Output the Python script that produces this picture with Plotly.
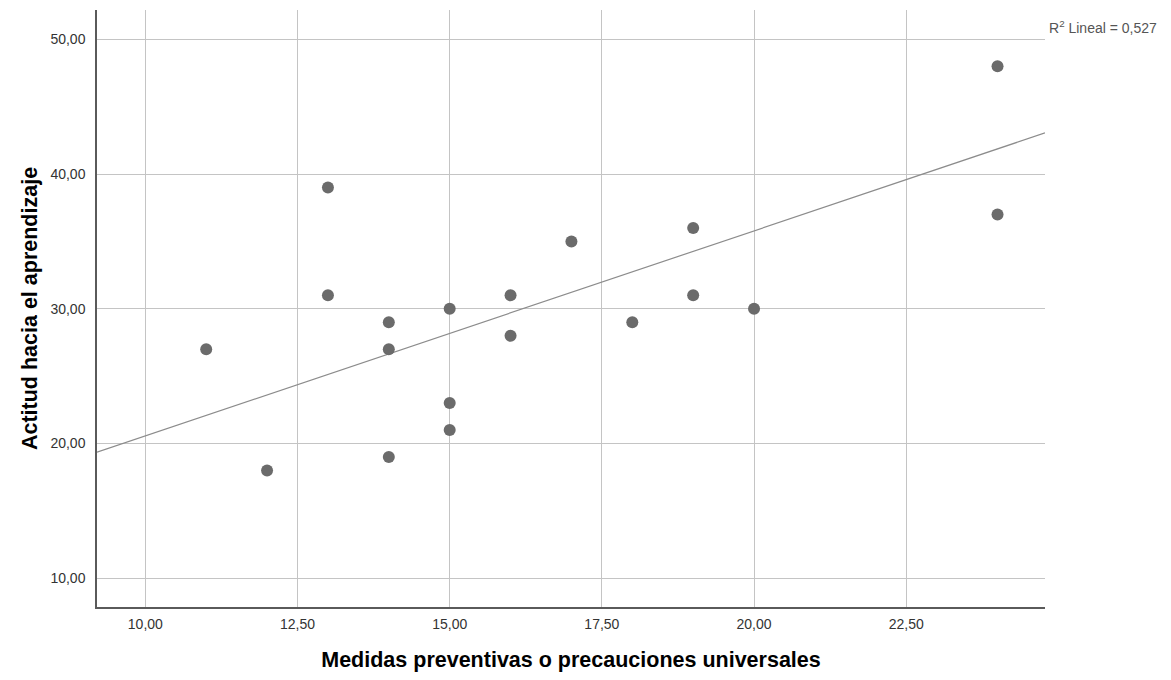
import plotly.graph_objects as go

# Data
medidas = [11, 12, 13, 13, 14, 14, 14, 15, 15, 15, 16, 16, 17, 18, 19, 19, 20, 24, 24]
actitud = [27, 18, 39, 31, 29, 27, 19, 30, 23, 21, 31, 28, 35, 29, 36, 31, 30, 48, 37]
x_ticks = [10, 12.5, 15, 17.5, 20, 22.5]
y_ticks = [10, 20, 30, 40, 50]
x_range = [9.206, 24.78]
y_range = [7.87, 52.17]
# Fit line: y = intercept + slope * x
fit_intercept = 5.36
fit_slope = 1.521
r2_label = "R<sup>2</sup> Lineal = 0,527"

line_x = list(x_range)
line_y = [fit_intercept + fit_slope * v for v in line_x]

fig = go.Figure()
fig.add_trace(go.Scatter(
    x=line_x, y=line_y, mode="lines",
    line=dict(color="#8c8c8c", width=1.2),
    hoverinfo="skip", showlegend=False,
))
fig.add_trace(go.Scatter(
    x=medidas, y=actitud, mode="markers",
    marker=dict(color="#6b6b6b", size=12, line=dict(width=0)),
    showlegend=False,
))

axis_common = dict(
    showgrid=True, gridcolor="#c4c4c4", gridwidth=1,
    zeroline=False, showline=True, linecolor="#5a5a5a", linewidth=1.5,
    ticks="", tickformat=".2f",
    tickfont=dict(family="Liberation Sans, Arial, sans-serif", size=14, color="#333333"),
)
title_font = dict(family="Liberation Sans, Arial, sans-serif", size=21.5, color="black", weight="bold")

fig.update_layout(
    width=1155, height=664,
    margin=dict(l=89, r=118, t=2, b=65),
    paper_bgcolor="white", plot_bgcolor="white",
    separators=",.",
    font=dict(family="Liberation Sans, Arial, sans-serif"),
    xaxis=dict(range=x_range, tickvals=x_ticks, ticklabelstandoff=3,
               title=dict(text="Medidas preventivas o precauciones universales",
                          font=title_font, standoff=24),
               **axis_common),
    yaxis=dict(range=y_range, tickvals=y_ticks, ticklabelstandoff=7,
               title=dict(text="Actitud hacia el aprendizaje",
                          font=title_font, standoff=7),
               **axis_common),
    annotations=[dict(
        text=r2_label, xref="paper", yref="paper", x=1.002, y=0.9715,
        xanchor="left", yanchor="middle", showarrow=False,
        font=dict(size=14, color="#555555"),
    )],
)

fig.write_html("out.html")
